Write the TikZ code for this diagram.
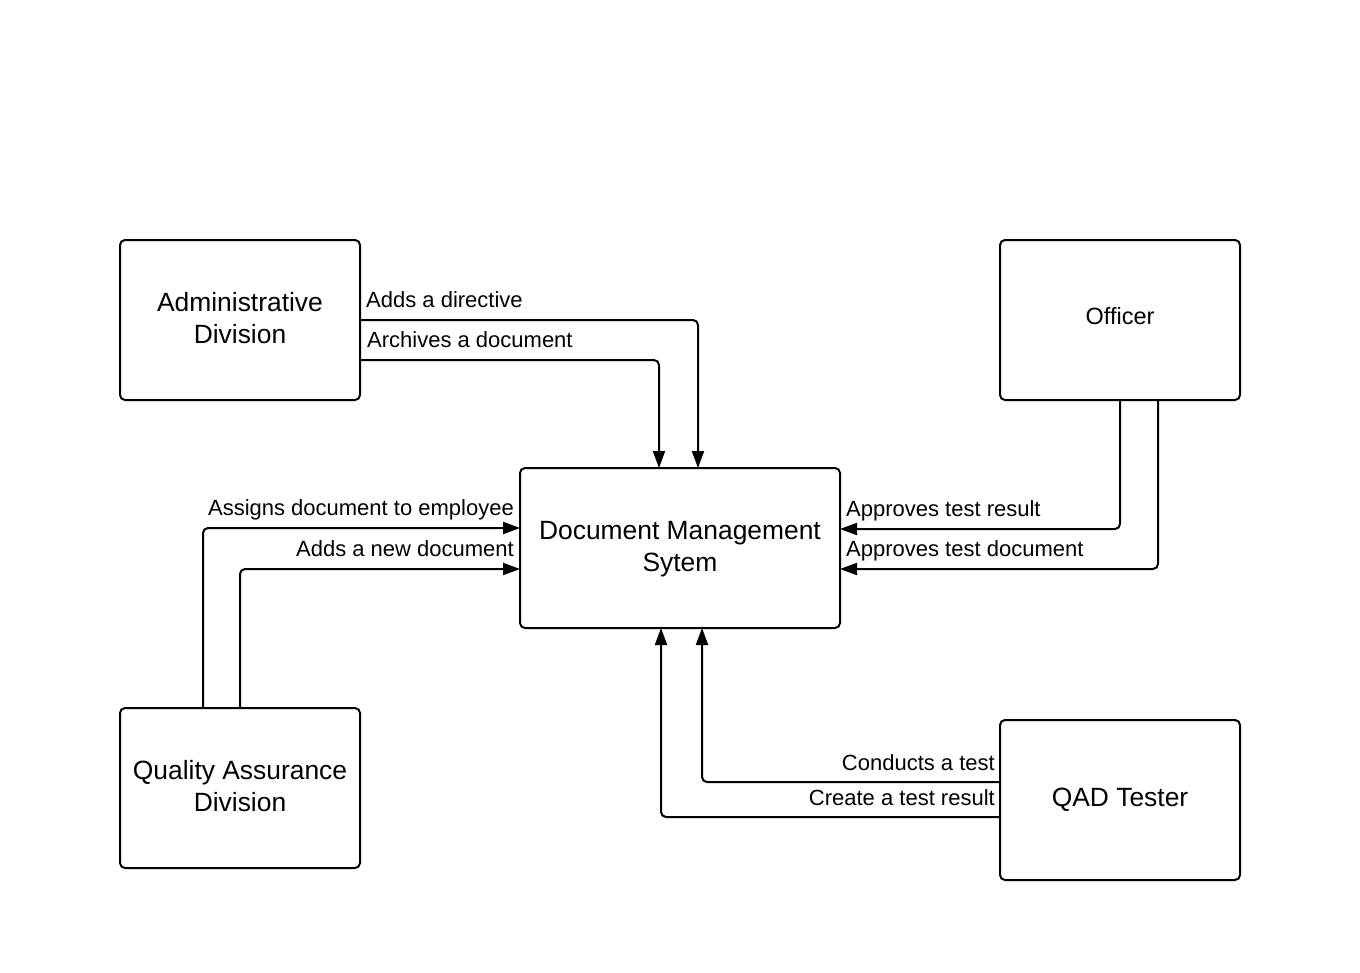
\documentclass[tikz,border=0pt]{standalone}
\usepackage{fontspec}
\setmainfont{Liberation Sans}
\usetikzlibrary{arrows.meta,calc}
\begin{document}
\begin{tikzpicture}[x=1pt,y=-1pt,
  box/.style={draw=black,line width=2pt,rounded corners=5pt,minimum width=240pt,minimum height=160pt,inner sep=0pt,outer sep=0pt},
  txt/.style={inner sep=0pt,align=center,font=\fontsize{26.4}{32}\selectfont},
  flow/.style={draw=black,line width=2pt,rounded corners=5pt,-{Triangle[length=17pt,width=12pt]}},
  lbl/.style={inner sep=0pt,font=\fontsize{22}{26}\selectfont}]
\useasboundingbox (0,0) rectangle (1360,972);
\node[box] (adm) at (240,320) {};
\node[box] (off) at (1120,320) {};
\node[box,minimum width=320pt] (dms) at (680,548) {};
\node[box] (qad) at (240,788) {};
\node[box] (tst) at (1120,800) {};
\node[txt] (admt) at ([yshift=2pt]adm.center) {Administrative\\Division};
\node[txt,font=\fontsize{23.5}{28}\selectfont] (offt) at ([yshift=4pt]off.center) {Officer};
\node[txt] (dmst) at ([yshift=-1pt]dms.center) {Document Management\\Sytem};
\node[txt] (qadt) at ([yshift=2pt]qad.center) {Quality Assurance\\Division};
\node[txt] (tstt) at (tst.center) {QAD Tester};
% Administrative Division
\draw[flow] (adm.east) -| ($(dms.north)+(18,0)$);
\draw[flow] ($(adm.east)+(0,40)$) -| ($(dms.north)+(-21,0)$);
\node[lbl,anchor=base west] (l1) at (366,307) {Adds a directive};
\node[lbl,anchor=base west] (l2) at (367,347) {Archives a document};
% Officer
\draw[flow] (off.south) |- ($(dms.east)+(0,-19)$);
\draw[flow] ($(off.south)+(38,0)$) |- ($(dms.east)+(0,21)$);
\node[lbl,anchor=base west] (l3) at (846,516) {Approves test result};
\node[lbl,anchor=base west] (l4) at (846,556) {Approves test document};
% Quality Assurance Division
\draw[flow] ($(qad.north)+(-37,0)$) |- ($(dms.west)+(0,-20)$);
\draw[flow] (qad.north) |- ($(dms.west)+(0,21)$);
\node[lbl,anchor=base east] (l5) at (514,515) {Assigns document to employee};
\node[lbl,anchor=base east] (l6) at (514,556) {Adds a new document};
% QAD Tester
\draw[flow] ($(tst.west)+(0,-18)$) -| ($(dms.south)+(22,0)$);
\draw[flow] ($(tst.west)+(0,17)$) -| ($(dms.south)+(-19,0)$);
\node[lbl,anchor=base east] (l7) at (995,770) {Conducts a test};
\node[lbl,anchor=base east] (l8) at (995,805) {Create a test result};
\end{tikzpicture}
\end{document}
